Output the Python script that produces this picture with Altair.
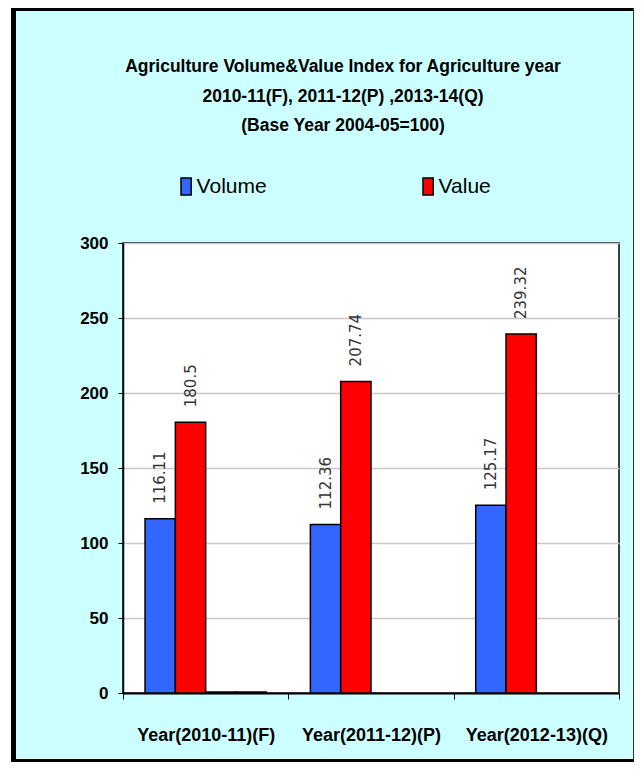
import altair as alt
import pandas as pd

# ---- data ----
categories = ["Year(2010-11)(F)", "Year(2011-12)(P)", "Year(2012-13)(Q)"]
volume = [116.11, 112.36, 125.17]
value = [180.5, 207.74, 239.32]
# two tiny unnamed series visible only in the first group (thin line at the base)
extra_cats = ["Year(2010-11)(F)"]
extra_a = [0.6]
extra_b = [0.6]
series = ["Volume", "Value", "Series3", "Series4"]
colors = ["#3366FF", "#FF0000", "#FFFFFF", "#FFFFFF"]
y_ticks = [0, 50, 100, 150, 200, 250, 300]
title_lines = [
    "Agriculture Volume&Value Index for Agriculture year",
    "2010-11(F), 2011-12(P) ,2013-14(Q)",
    "(Base Year 2004-05=100)",
]

rows = []
for c, v in zip(categories, volume):
    rows.append({"cat": c, "series": "Volume", "val": v, "label": str(v)})
for c, v in zip(categories, value):
    rows.append({"cat": c, "series": "Value", "val": v, "label": str(v)})
for c, v in zip(extra_cats, extra_a):
    rows.append({"cat": c, "series": "Series3", "val": v, "label": ""})
for c, v in zip(extra_cats, extra_b):
    rows.append({"cat": c, "series": "Series4", "val": v, "label": ""})
df = pd.DataFrame(rows)
df_lab = df[df["series"].isin(["Volume", "Value"])]

FONT = "Liberation Sans"
W, H = 496, 450

x_enc = alt.X(
    "cat:N", sort=categories,
    scale=alt.Scale(paddingInner=0, paddingOuter=0),
    axis=alt.Axis(title=None, labelFont=FONT, labelFontSize=18, labelFontWeight="bold",
                  labelColor="black", labelAngle=0, labelPadding=27, tickBand="extent",
                  tickSize=6, tickColor="black", tickWidth=1, domainColor="black",
                  domainWidth=2, grid=False),
)
xo_enc = alt.XOffset("series:N", sort=series,
                     scale=alt.Scale(paddingInner=0, paddingOuter=0.727))
y_enc = alt.Y(
    "val:Q", scale=alt.Scale(domain=[0, 300], nice=False),
    axis=alt.Axis(title=None, values=y_ticks, labelFont=FONT, labelFontSize=17,
                  labelFontWeight="bold", labelColor="black", labelPadding=10,
                  tickSize=5, tickColor="black", domainColor="black", domainWidth=1.5,
                  gridColor="#C8C8C8", gridWidth=1.5),
)

bars = alt.Chart(df).mark_bar(stroke="black", strokeWidth=1.5).encode(
    x=x_enc,
    xOffset=xo_enc,
    y=y_enc,
    color=alt.Color(
        "series:N",
        scale=alt.Scale(domain=series, range=colors),
        legend=alt.Legend(
            title=None, values=["Volume", "Value"], orient="none",
            legendX=52.6, legendY=-67, direction="horizontal", columns=2,
            columnPadding=150, padding=0,
            symbolType="M-0.6,-1H0.6V1H-0.6Z", symbolSize=289,
            symbolStrokeColor="black", symbolStrokeWidth=1.5,
            labelFont=FONT, labelFontSize=21, labelColor="black", labelOffset=0,
        ),
    ),
)

labels = alt.Chart(df_lab).mark_text(
    angle=270, align="left", baseline="middle", dx=15,
    font="DejaVu Sans", fontSize=15, color="#333333",
).encode(
    x=alt.X("cat:N", sort=categories),
    xOffset=alt.XOffset("series:N", sort=series),
    y=alt.Y("val:Q"),
    text="label:N",
)

title_df = pd.DataFrame({"t": ["\n".join(title_lines)]})
title = alt.Chart(title_df).mark_text(
    align="center", baseline="alphabetic", lineBreak="\n", lineHeight=29.5,
    font=FONT, fontSize=17.5, fontWeight="bold", color="black",
).encode(x=alt.value(220), y=alt.value(-171), text="t:N")


def strip(x1, x2, y1, y2, color):
    return alt.Chart(pd.DataFrame({"k": [0]})).mark_rect(color=color).encode(
        x=alt.value(x1), x2=alt.value(x2), y=alt.value(y1), y2=alt.value(y2)
    )


frame = [
    strip(-115, -112, -235, 519, "white"),
    strip(-112, -107, -235, 519, "black"),
    strip(-112, 511, -235, -232, "black"),
    strip(510, 511, -235, 519, "#333333"),
    strip(-112, 511, 516, 519, "black"),
]

chart = alt.layer(*frame, bars, labels, title).properties(
    width=W, height=H, padding=0, background="#CCFFFF"
).configure_view(stroke="black", strokeWidth=1.5, fill="white")

chart.save("out.html", embed_options={"renderer": "svg", "actions": False})
